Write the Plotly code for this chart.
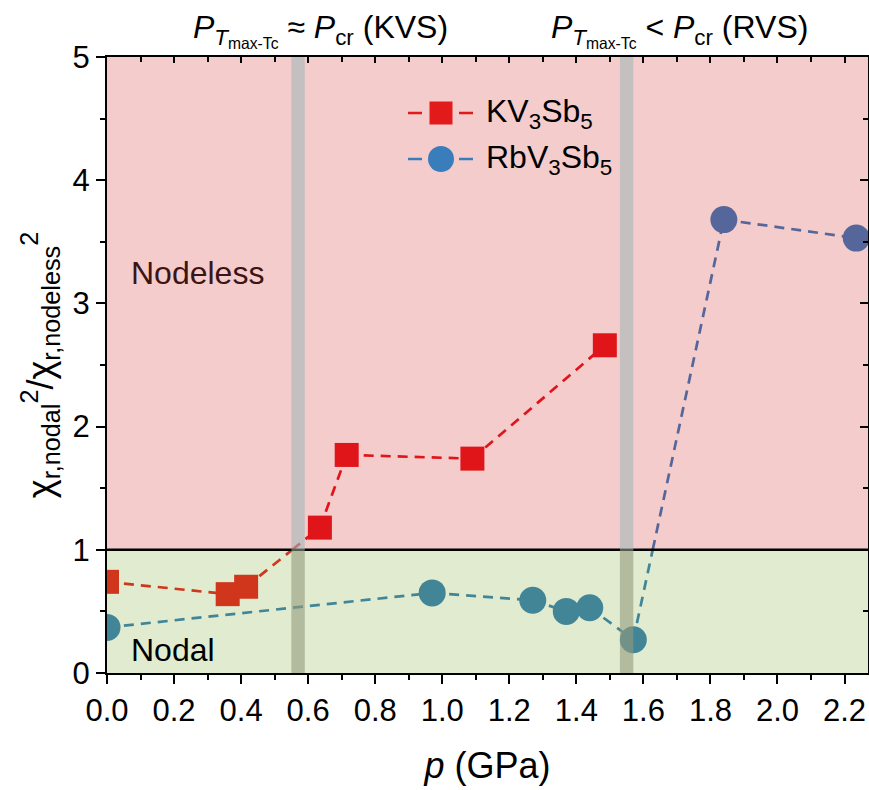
import plotly.graph_objects as go

# ---- data ----
kv_p = [0.0, 0.36, 0.415, 0.635, 0.715, 1.09, 1.485]
kv_r = [0.74, 0.64, 0.70, 1.18, 1.77, 1.74, 2.66]
rb_p = [0.0, 0.97, 1.27, 1.37, 1.44, 1.57, 1.84, 2.235]
rb_r = [0.37, 0.65, 0.59, 0.50, 0.53, 0.27, 3.68, 3.53]
boundary = 1.0
bars = [(0.55, 0.59), (1.53, 1.57)]
x_ticks = [0.0, 0.2, 0.4, 0.6, 0.8, 1.0, 1.2, 1.4, 1.6, 1.8, 2.0, 2.2]
y_ticks = [0, 1, 2, 3, 4, 5]
legend_names = ["KV<sub>3</sub>Sb<sub>5</sub>", "RbV<sub>3</sub>Sb<sub>5</sub>"]

# ---- styles ----
FONT = "Liberation Sans, Arial, sans-serif"
PINK = "#f4cccc"
GREEN = "#e0ebd0"
kv_style = dict(legend="#e31a1c", low="#d0361c", high="#e01519", symbol="square", size=24)
rb_style = dict(legend="#3a7dbb", low="#428597", high="#55679a", symbol="circle", size=27)
DASH = "10px,7px"
LW = 2.7
PLOT_W, PLOT_H = 761, 616
# legend layout in plot-area pixels (origin top-left of plot area)
LEG_X0, LEG_X1, LEG_XM, LEG_TX = 301, 366, 334, 377
LEG_Y = [56, 102]

fig = go.Figure()


def add_series(xs, ys, st):
    for i in range(len(xs) - 1):
        x0, y0, x1, y1 = xs[i], ys[i], xs[i + 1], ys[i + 1]
        pieces = []
        if (y0 - boundary) * (y1 - boundary) < 0:
            xc = x0 + (boundary - y0) * (x1 - x0) / (y1 - y0)
            pieces.append(((x0, xc), (y0, boundary), y0 < boundary))
            pieces.append(((xc, x1), (boundary, y1), y1 < boundary))
        else:
            pieces.append(((x0, x1), (y0, y1), max(y0, y1) <= boundary))
        for px, py, low in pieces:
            fig.add_trace(go.Scatter(
                x=list(px), y=list(py), mode="lines", showlegend=False, hoverinfo="skip",
                line=dict(color=st["low"] if low else st["high"], width=LW, dash=DASH)))
    cols = [st["low"] if v < boundary else st["high"] for v in ys]
    fig.add_trace(go.Scatter(
        x=xs, y=ys, mode="markers", showlegend=False,
        marker=dict(symbol=st["symbol"], size=st["size"], color=cols, line=dict(width=0))))


add_series(kv_p, kv_r, kv_style)
add_series(rb_p, rb_r, rb_style)

# mirror axes with inward ticks
fig.add_trace(go.Scatter(x=[None], y=[None], xaxis="x2", yaxis="y2", showlegend=False))

# hand-built legend on an overlay axis measured in plot-area pixels
annotations = []
for st, ly, name in zip([kv_style, rb_style], LEG_Y, legend_names):
    fig.add_trace(go.Scatter(
        x=[LEG_X0, LEG_X1], y=[ly, ly], mode="lines", xaxis="x3", yaxis="y3",
        showlegend=False, hoverinfo="skip",
        line=dict(color=st["legend"], width=LW, dash="14px,37px")))
    fig.add_trace(go.Scatter(
        x=[LEG_XM], y=[ly], mode="markers", xaxis="x3", yaxis="y3",
        showlegend=False, hoverinfo="skip",
        marker=dict(symbol=st["symbol"], size=st["size"] - 1, color=st["legend"], line=dict(width=0))))
    annotations.append(dict(text=name, xref="x3", yref="y3", x=LEG_TX, y=ly,
                            xanchor="left", yanchor="middle", showarrow=False,
                            font=dict(size=32, color="black")))

shapes = [
    dict(type="rect", xref="paper", yref="y", x0=0, x1=1, y0=boundary, y1=5,
         fillcolor=PINK, line_width=0, layer="below"),
    dict(type="rect", xref="paper", yref="y", x0=0, x1=1, y0=0, y1=boundary,
         fillcolor=GREEN, line_width=0, layer="below"),
    dict(type="line", xref="paper", yref="y", x0=0, x1=1, y0=boundary, y1=boundary,
         line=dict(color="black", width=2.5), layer="above"),
]
for b0, b1 in bars:
    shapes.append(dict(type="rect", xref="x", yref="y", x0=b0, x1=b1, y0=boundary, y1=5,
                       fillcolor="rgba(164,184,184,0.6)", line_width=0, layer="above"))
    shapes.append(dict(type="rect", xref="x", yref="y", x0=b0, x1=b1, y0=0, y1=boundary,
                       fillcolor="rgba(147,155,125,0.6)", line_width=0, layer="above"))

annotations += [
    dict(text="<i>P</i><sub><i>T</i><sub>max-Tc</sub></sub> ≈ <i>P</i><sub>cr</sub> (KVS)",
         xref="paper", yref="paper", x=(320 - 107) / PLOT_W, y=1.0, yanchor="bottom",
         xanchor="center", yshift=3, showarrow=False, font=dict(size=32, color="black")),
    dict(text="<i>P</i><sub><i>T</i><sub>max-Tc</sub></sub> &lt; <i>P</i><sub>cr</sub> (RVS)",
         xref="paper", yref="paper", x=(679 - 107) / PLOT_W, y=1.0, yanchor="bottom",
         xanchor="center", yshift=3, showarrow=False, font=dict(size=32, color="black")),
    dict(text="Nodeless", xref="paper", yref="y", x=(129 - 107) / PLOT_W, y=3.25,
         xanchor="left", yanchor="middle", showarrow=False,
         font=dict(size=32, color="#3b1414")),
    dict(text="Nodal", xref="paper", yref="y", x=(129 - 107) / PLOT_W, y=0.19,
         xanchor="left", yanchor="middle", showarrow=False,
         font=dict(size=32, color="black")),
]

axis_common = dict(showline=True, linecolor="black", linewidth=2, showgrid=False,
                   zeroline=False, tickcolor="black", tickwidth=2)

fig.update_layout(
    width=869, height=790,
    margin=dict(l=107, r=1, t=57, b=117),
    paper_bgcolor="white", plot_bgcolor="white",
    font=dict(family=FONT, size=31, color="black"),
    shapes=shapes, annotations=annotations,
    showlegend=False,
    xaxis=dict(range=[0, 2.27], tickvals=x_ticks, ticktext=[f"{v:.1f}" for v in x_ticks],
               ticks="outside", ticklen=9,
               minor=dict(dtick=0.1, tick0=0, ticks="outside", ticklen=5, tickwidth=2, tickcolor="black"),
               title=dict(text="<i>p</i> (GPa)", font=dict(size=36), standoff=26),
               tickfont=dict(size=31), **axis_common),
    yaxis=dict(range=[0, 5], tickvals=y_ticks, ticks="outside", ticklen=9,
               minor=dict(dtick=0.5, tick0=0, ticks="outside", ticklen=5, tickwidth=2, tickcolor="black"),
               title=dict(text="χ<sub>r,nodal</sub><sup>2</sup>/χ<sub>r,nodeless</sub><sup>2</sup>",
                          font=dict(size=36), standoff=8),
               tickfont=dict(size=31), **axis_common),
    xaxis2=dict(overlaying="x", side="top", matches="x", range=[0, 2.27],
                tickvals=x_ticks, ticks="inside", ticklen=6, showticklabels=False,
                minor=dict(dtick=0.1, tick0=0, ticks="inside", ticklen=5, tickwidth=2, tickcolor="black"),
                **axis_common),
    yaxis2=dict(overlaying="y", side="right", matches="y", range=[0, 5],
                tickvals=y_ticks, ticks="inside", ticklen=8, showticklabels=False,
                minor=dict(dtick=0.5, tick0=0, ticks="inside", ticklen=5, tickwidth=2, tickcolor="black"),
                **axis_common),
    xaxis3=dict(overlaying="x", range=[0, PLOT_W], visible=False, fixedrange=True),
    yaxis3=dict(overlaying="y", range=[PLOT_H, 0], visible=False, fixedrange=True),
)

fig.write_html("out.html")
